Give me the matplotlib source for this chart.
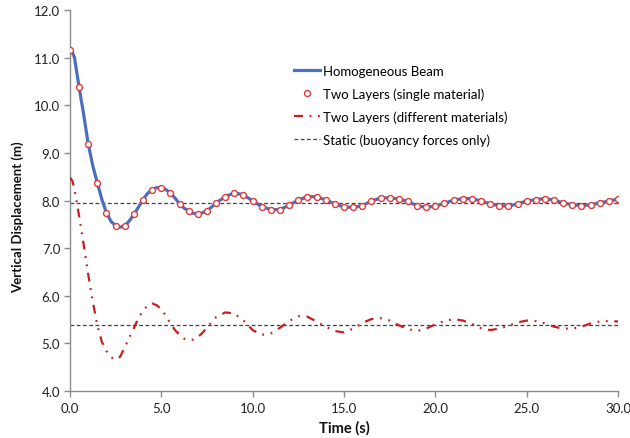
import matplotlib
matplotlib.use("Agg")
import matplotlib.pyplot as plt
from matplotlib.lines import Line2D

# ---------------- data ----------------
homog_t = [0, 0.125, 0.25, 0.5, 0.75, 1.0, 1.25, 1.5, 1.75, 2.0, 2.25, 2.5, 2.75, 3.0, 3.25, 3.5, 3.75,
           4.0, 4.25, 4.5, 4.75, 5.0, 5.25, 5.5, 5.75, 6.0, 6.25, 6.5, 6.75, 7.0, 7.25, 7.5, 7.75,
           8.0, 8.5, 9.0, 9.5, 10.0, 10.5, 11.0, 11.5, 12.0, 12.5, 13.0, 13.5, 14.0, 14.5, 15.0,
           15.5, 16.0, 16.5, 17.0, 17.5, 18.0, 18.5, 19.0, 19.5, 20.0, 20.5, 21.0, 21.5, 22.0,
           22.5, 23.0, 23.5, 24.0, 24.5, 25.0, 25.5, 26.0, 26.5, 27.0, 27.5, 28.0, 28.5, 29.0,
           29.5, 30.0]
homog_y = [11.16, 11.12, 11.00, 10.38, 9.81, 9.19, 8.73, 8.37, 8.02, 7.74, 7.56, 7.47, 7.44, 7.47, 7.57,
           7.71, 7.86, 8.02, 8.15, 8.23, 8.27, 8.27, 8.23, 8.16, 8.05, 7.93, 7.84, 7.78, 7.73,
           7.72, 7.74, 7.79, 7.86, 7.95, 8.08, 8.16, 8.12, 7.99, 7.87, 7.81, 7.81, 7.90, 8.01,
           8.08, 8.08, 8.01, 7.93, 7.86, 7.86, 7.89, 7.99, 8.05, 8.06, 8.03, 7.98, 7.89, 7.86,
           7.88, 7.94, 8.01, 8.04, 8.04, 7.99, 7.93, 7.89, 7.88, 7.93, 7.99, 8.02, 8.04, 8.01,
           7.95, 7.91, 7.89, 7.91, 7.95, 7.99, 8.03]

single_t = [0, 0.5, 1.0, 1.5, 2.0, 2.5, 3.0, 3.5, 4.0, 4.5, 5.0, 5.5, 6.0, 6.5, 7.0, 7.5, 8.0,
            8.5, 9.0, 9.5, 10.0, 10.5, 11.0, 11.5, 12.0, 12.5, 13.0, 13.5, 14.0, 14.5, 15.0,
            15.5, 16.0, 16.5, 17.0, 17.5, 18.0, 18.5, 19.0, 19.5, 20.0, 20.5, 21.0, 21.5, 22.0,
            22.5, 23.0, 23.5, 24.0, 24.5, 25.0, 25.5, 26.0, 26.5, 27.0, 27.5, 28.0, 28.5, 29.0,
            29.5, 30.0]
single_y = [11.16, 10.38, 9.19, 8.37, 7.74, 7.47, 7.47, 7.71, 8.02, 8.23, 8.27, 8.16, 7.93,
            7.78, 7.72, 7.79, 7.95, 8.08, 8.16, 8.12, 7.99, 7.87, 7.81, 7.81, 7.90, 8.01, 8.08,
            8.08, 8.01, 7.93, 7.86, 7.86, 7.89, 7.99, 8.05, 8.06, 8.03, 7.98, 7.89, 7.86, 7.88,
            7.94, 8.01, 8.04, 8.04, 7.99, 7.93, 7.89, 7.88, 7.93, 7.99, 8.02, 8.04, 8.01, 7.95,
            7.91, 7.89, 7.91, 7.95, 7.99, 8.03]

diff_t = [0, 0.125, 0.25, 0.5, 0.75, 1.0, 1.25, 1.5, 1.75, 2.0, 2.25, 2.5, 2.75, 3.0, 3.25, 3.5, 3.75,
          4.0, 4.25, 4.5, 4.75, 5.0, 5.25, 5.5, 5.75, 6.0, 6.25, 6.5, 6.75, 7.0, 7.25, 7.5, 7.75,
          8.0, 8.5, 9.0, 9.5, 10.0, 10.5, 11.0, 11.5, 12.0, 12.5, 13.0, 13.5, 14.0, 14.5, 15.0,
          15.5, 16.0, 16.5, 17.0, 17.5, 18.0, 18.5, 19.0, 19.5, 20.0, 20.5, 21.0, 21.5, 22.0,
          22.5, 23.0, 23.5, 24.0, 24.5, 25.0, 25.5, 26.0, 26.5, 27.0, 27.5, 28.0, 28.5, 29.0,
          29.5, 30.0]
diff_y = [8.48, 8.42, 8.24, 7.68, 7.08, 6.45, 5.88, 5.38, 5.03, 4.84, 4.71, 4.66, 4.72, 4.92, 5.12,
          5.32, 5.53, 5.69, 5.79, 5.84, 5.80, 5.72, 5.58, 5.42, 5.28, 5.18, 5.10, 5.07, 5.08,
          5.13, 5.22, 5.33, 5.45, 5.55, 5.65, 5.63, 5.48, 5.28, 5.18, 5.21, 5.33, 5.47, 5.57,
          5.56, 5.46, 5.35, 5.26, 5.23, 5.31, 5.43, 5.51, 5.53, 5.48, 5.38, 5.30, 5.26, 5.31,
          5.40, 5.47, 5.51, 5.48, 5.41, 5.32, 5.28, 5.31, 5.37, 5.44, 5.48, 5.47, 5.42, 5.35,
          5.31, 5.31, 5.35, 5.42, 5.46, 5.47, 5.46]

static_levels = [7.95, 5.38]

x_ticks = [0, 5, 10, 15, 20, 25, 30]
y_ticks = [4, 5, 6, 7, 8, 9, 10, 11, 12]

labels = ["Homogeneous Beam", "Two Layers (single material)",
          "Two Layers (different materials)", "Static (buoyancy forces only)"]

# ---------------- plot ----------------
plt.rcParams['font.family'] = ['Lato', 'DejaVu Sans']

fig = plt.figure(figsize=(6.3, 4.39), dpi=100)
ax = fig.add_axes([0.111, 0.107, 0.870, 0.868])

blue = "#4A6FBF"
red_line = "#C81E1E"
red_marker = "#E03A3A"
static_col = "#404040"
dashdot = (0, (4, 3, 0.8, 3, 0.8, 3))

for lvl in static_levels:
    ax.plot([0, 30], [lvl, lvl], color=static_col, lw=0.9,
            linestyle=(0, (3, 2)), zorder=2)

ax.plot(homog_t, homog_y, color=blue, lw=2.3, zorder=3, solid_joinstyle='round')
ax.plot(single_t, single_y, linestyle='none', marker='o', markersize=4.3,
        markerfacecolor='white', markeredgecolor=red_marker, markeredgewidth=1.0, zorder=4)
ax.plot(diff_t, diff_y, color=red_line, lw=1.6, linestyle=dashdot, zorder=3)

ax.set_xlim(0, 30)
ax.set_ylim(4, 12)
ax.set_xticks(x_ticks)
ax.set_xticklabels([f"{v:.1f}" for v in x_ticks])
ax.set_yticks(y_ticks)
ax.set_yticklabels([f"{v:.1f}" for v in y_ticks])

for side in ['top', 'right']:
    ax.spines[side].set_visible(False)
for side in ['left', 'bottom']:
    ax.spines[side].set_color('#8C8C8C')
    ax.spines[side].set_linewidth(1.0)
ax.tick_params(axis='both', direction='out', length=4, width=1.0, color='#8C8C8C',
               labelsize=9.5, labelcolor='#222222')
ax.tick_params(axis='x', pad=4)
ax.tick_params(axis='y', pad=3)

ax.set_xlabel("Time (s)", fontsize=10.5, fontweight='bold', color='#111111', labelpad=4)
ax.set_ylabel("Vertical Displacement (m)", fontsize=9.5, fontweight='bold', color='#111111')
ax.yaxis.set_label_coords(-0.083, 0.46)

handles = [
    Line2D([], [], color=blue, lw=2.3),
    Line2D([], [], linestyle='none', marker='o', markersize=4.3, markerfacecolor='white',
           markeredgecolor=red_marker, markeredgewidth=1.0),
    Line2D([], [], color=red_line, lw=1.6, linestyle=dashdot),
    Line2D([], [], color=static_col, lw=0.9, linestyle=(0, (3, 2))),
]
ax.legend(handles, labels, loc='upper left', bbox_to_anchor=(0.40, 0.87), frameon=False,
          fontsize=9.5, handlelength=1.9, handletextpad=0.3, labelspacing=0.8,
          borderaxespad=0)

fig.savefig("out.png", dpi=100)
